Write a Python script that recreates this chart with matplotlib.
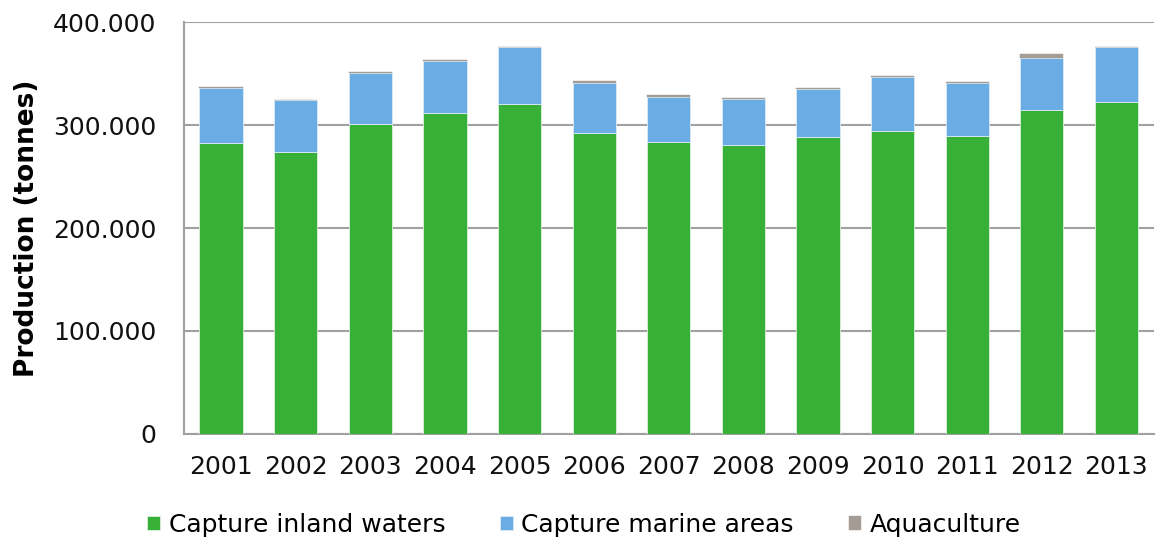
import matplotlib.pyplot as plt
import numpy as np

# Production by source, thousands of tonnes
years = ['2001', '2002', '2003', '2004', '2005', '2006', '2007',
         '2008', '2009', '2010', '2011', '2012', '2013']
inland = [283, 273.5, 301.5, 312, 320.5, 292.5, 284, 281, 288, 294, 289.5, 315, 322]
marine = [53.5, 50.5, 49.5, 50.5, 55, 48.5, 43.5, 44, 47, 53, 51, 50, 53.5]
aquaculture = [0.5, 0.5, 1, 1, 0.5, 1.5, 1.5, 1, 1.5, 1, 1.5, 4, 0.5]

inland = np.array(inland) * 1000
marine = np.array(marine) * 1000
aquaculture = np.array(aquaculture) * 1000

green = '#36B037'
blue = '#6AACE4'
grey = '#A59D95'

fig = plt.figure(figsize=(11.56, 5.41), dpi=100)
ax = fig.add_axes([0.159, 0.198, 0.839, 0.761])

x = np.arange(len(years))
w = 0.58
ax.bar(x, inland, w, color=green, edgecolor='#DDEFDD', linewidth=0.6,
       label='Capture inland waters', zorder=3)
ax.bar(x, marine, w, bottom=inland, color=blue, edgecolor='#DDEAF6', linewidth=0.6,
       label='Capture marine areas', zorder=3)
ax.bar(x, aquaculture, w, bottom=inland + marine, color=grey, edgecolor=grey,
       linewidth=0.3, label='Aquaculture', zorder=3)

ax.set_xlim(-0.5, len(years) - 0.5)
ax.set_ylim(0, 400000)
ax.set_yticks([0, 100000, 200000, 300000, 400000])
ax.set_yticklabels(['0', '100.000', '200.000', '300.000', '400.000'])
ax.set_xticks(x)
ax.set_xticklabels(years)
ax.tick_params(axis='both', length=0, labelsize=18, colors='#111111')
ax.tick_params(axis='y', pad=20)
ax.tick_params(axis='x', pad=15)

ax.grid(axis='y', color='#A0A0A0', linewidth=1.5, zorder=0)
for s in ['top', 'right']:
    ax.spines[s].set_visible(False)
for s in ['left', 'bottom']:
    ax.spines[s].set_color('#A0A0A0')
    ax.spines[s].set_linewidth(1.5)

ax.set_ylabel('Production (tonnes)', fontsize=19, fontweight='bold')
ax.yaxis.set_label_coords(-0.148, 0.5)

ax.legend(loc='upper center', bbox_to_anchor=(0.413, -0.137), ncol=3, frameon=False,
          fontsize=18, handlelength=0.5, handleheight=0.5, handletextpad=0.35,
          columnspacing=2.2)

plt.savefig('out.png', dpi=100)
